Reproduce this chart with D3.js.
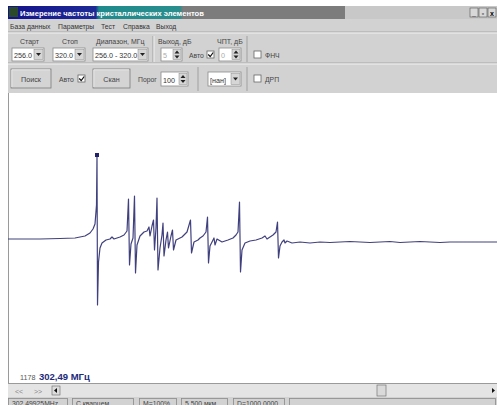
<!DOCTYPE html>
<html>
<head>
<meta charset="utf-8">
<script src="https://cdn.jsdelivr.net/npm/d3@7"></script>
<style>
  html, body { margin: 0; padding: 0; background: #fff; }
  svg { display: block; }
  text { font-family: "Liberation Sans", "DejaVu Sans", sans-serif; }
</style>
</head>
<body>
<svg id="chart" width="497" height="405"></svg>
<script>
// Sweep trace: sample number and response amplitude (arbitrary units, 0 = baseline)
const sampleNo = [
  1000, 1064, 1104, 1134, 1154, 1164, 1170, 1174, 1177, 1178, 1179, 1181, 1184, 1188, 1196, 1204,
  1208, 1212, 1224, 1232, 1238, 1241, 1243, 1246, 1250, 1253, 1255, 1258, 1264, 1272, 1278, 1282,
  1284, 1288, 1291, 1293, 1296, 1298, 1300, 1304, 1308, 1310, 1312, 1316, 1319, 1321, 1326, 1329,
  1331, 1336, 1348, 1358, 1365, 1367, 1372, 1380, 1384, 1390, 1396, 1399, 1401, 1404, 1408, 1412,
  1414, 1418, 1428, 1440, 1450, 1456, 1460, 1463, 1465, 1468, 1474, 1484, 1496, 1508, 1514, 1518,
  1524, 1530, 1536, 1539, 1541, 1544, 1548, 1552, 1554, 1558, 1568, 1584, 1604, 1624, 1644, 1664,
  1684, 1704, 1724, 1744, 1764, 1784, 1804, 1824, 1844, 1864, 1884, 1904, 1924, 1944, 1978
];
const amplitude = [
  1, 1, 1.5, 2, 4, 7, 11, 16, 35, 85, -65, -22, -8, -3, 0, 1,
  3, 1, 3, 5, 9, 41, -25, -4, 2, 44, -33, -5, 4, 8, 9, 13,
  4, 14, 20, -10, 12, 42, -30, -8, 5, 17, -16, 0, 8, -8, 4, 10,
  -10, 0, 3, 8, 20, -13, -2, 0, 2, 4, 8, 23, -23, -6, -2, 2,
  -5, 1, -2, 0, 2, 5, 8, 38, -32, -10, -3, -1, 0, 2, 4, 1,
  3, 5, 8, 18, -18, -6, -2, 0, -3, -1, -3, -2, -3, -2, -2.5, -2,
  -1.5, -2, -2.5, -2, -1.5, -2.5, -2, -1.5, -2, -2.5, -2, -2, -2, -2, -2
];
const markerSample = 1178;
const markerAmp = 85;
const markerFreq = "302,49 МГц";

// Window chrome texts
const menuItems = ["База данных", "Параметры", "Тест", "Справка", "Выход"];
const toolLabels = ["Старт", "Стоп", "Диапазон, МГц", "Выход, дБ", "ЧПТ, дБ"];
const comboValues = ["256.0", "320.0", "256.0 - 320.0"];
const statusItems = ["302,49925MHz", "С кварцем...", "M=100%", "5,500 мкм", "D=1000,0000"];

const svg = d3.select("#chart");
const W = 497, H = 405;
const face = "#d2d2d2";

// ---------- window frame ----------
svg.append("rect").attr("x", 0).attr("y", 0).attr("width", W).attr("height", H).attr("fill", "#ffffff");

// title bar
const defs = svg.append("defs");
const grad = defs.append("linearGradient").attr("id", "tb").attr("x1", "0").attr("x2", "1");
grad.append("stop").attr("offset", "0").attr("stop-color", "#14148a");
grad.append("stop").attr("offset", "0.26").attr("stop-color", "#1e2a96");
grad.append("stop").attr("offset", "0.27").attr("stop-color", "#1f8a8c");
grad.append("stop").attr("offset", "0.51").attr("stop-color", "#2a8e8e");
grad.append("stop").attr("offset", "0.52").attr("stop-color", "#7c7c7c");
grad.append("stop").attr("offset", "1").attr("stop-color", "#7c7c7c");
svg.append("rect").attr("x", 8).attr("y", 6).attr("width", W - 8).attr("height", 13).attr("fill", "#c8c8c8");
svg.append("rect").attr("x", 8).attr("y", 6).attr("width", 337).attr("height", 13).attr("fill", "url(#tb)");
svg.append("rect").attr("x", 9).attr("y", 7).attr("width", 9).attr("height", 10).attr("fill", "#2a4a2a");
svg.append("text").attr("x", 20).attr("y", 16).attr("font-size", 7.6).attr("font-weight", "bold")
  .attr("fill", "#ffffff").text("Измерение частоты кристаллических элементов");
// caption buttons
[470, 479, 488].forEach((bx, i) => {
  svg.append("rect").attr("x", bx).attr("y", 8).attr("width", 8).attr("height", 9)
    .attr("fill", "#d8d8d8").attr("stroke", "#555").attr("stroke-width", 0.6);
  svg.append("text").attr("x", bx + 4).attr("y", 15.5).attr("text-anchor", "middle")
    .attr("font-size", 7).attr("font-weight", "bold").attr("fill", "#000").text(["_", "▫", "x"][i]);
});

// menu bar + toolbars
svg.append("rect").attr("x", 8).attr("y", 19).attr("width", W - 8).attr("height", 74).attr("fill", face);
const menuX = [10, 58, 101, 123, 156];
menuItems.forEach((m, i) => {
  svg.append("text").attr("x", menuX[i]).attr("y", 28.5).attr("font-size", 6.8).attr("fill", "#333").text(m);
});
[[32, "#a8a8a8"], [33, "#f2f2f2"], [63, "#a8a8a8"], [64, "#f2f2f2"]].forEach(([yy, c]) => {
  svg.append("line").attr("x1", 8).attr("x2", W).attr("y1", yy).attr("y2", yy).attr("stroke", c).attr("stroke-width", 1);
});

// labels above combos
const labelX = [20, 62, 96, 158, 217];
toolLabels.forEach((t, i) => {
  svg.append("text").attr("x", labelX[i]).attr("y", 44).attr("font-size", 7).attr("fill", "#444").text(t);
});

function sunken(x, y, w, h) {
  svg.append("rect").attr("x", x).attr("y", y).attr("width", w).attr("height", h)
    .attr("fill", "#ffffff").attr("stroke", "#8a8a8a").attr("stroke-width", 0.8);
}
function combo(x, y, w, h, txt) {
  sunken(x, y, w, h);
  svg.append("text").attr("x", x + 2).attr("y", y + h - 3.5).attr("font-size", 7.2).attr("fill", "#333").text(txt);
  svg.append("rect").attr("x", x + w - 10).attr("y", y + 1.5).attr("width", 9).attr("height", h - 3)
    .attr("fill", "#d6d6d6").attr("stroke", "#888").attr("stroke-width", 0.5);
  svg.append("path").attr("d", `M${x + w - 8},${y + h / 2 - 1.5} l5,0 l-2.5,3 z`).attr("fill", "#222");
}
function spin(x, y, w, h, txt, dim) {
  sunken(x, y, w, h);
  svg.append("text").attr("x", x + 2).attr("y", y + h - 3.5).attr("font-size", 7.2)
    .attr("fill", dim ? "#aaa" : "#333").text(txt);
  svg.append("rect").attr("x", x + w - 9).attr("y", y + 1.5).attr("width", 8).attr("height", h - 3)
    .attr("fill", "#d6d6d6").attr("stroke", "#888").attr("stroke-width", 0.5);
  svg.append("path").attr("d", `M${x + w - 7.5},${y + h / 2 - 1} l5,0 l-2.5,-3 z`).attr("fill", "#222");
  svg.append("path").attr("d", `M${x + w - 7.5},${y + h / 2 + 1} l5,0 l-2.5,3 z`).attr("fill", "#222");
}
function checkbox(x, y, checked) {
  svg.append("rect").attr("x", x).attr("y", y).attr("width", 7).attr("height", 7)
    .attr("fill", "#fff").attr("stroke", "#666").attr("stroke-width", 0.8);
  if (checked) {
    svg.append("path").attr("d", `M${x + 1.2},${y + 3.5} l2,2 l3,-4`).attr("fill", "none")
      .attr("stroke", "#111").attr("stroke-width", 1.2);
  }
}
function button(x, y, w, h, txt) {
  svg.append("rect").attr("x", x).attr("y", y).attr("width", w).attr("height", h)
    .attr("fill", "#d4d4d4").attr("stroke", "#7a7a7a").attr("stroke-width", 0.8);
  svg.append("path").attr("d", `M${x + 0.8},${y + h - 1} V${y + 0.8} H${x + w - 1}`)
    .attr("fill", "none").attr("stroke", "#f4f4f4").attr("stroke-width", 0.8);
  svg.append("text").attr("x", x + w / 2).attr("y", y + h / 2 + 3).attr("text-anchor", "middle")
    .attr("font-size", 7.2).attr("fill", "#444").text(txt);
}

combo(12, 48, 32, 13, comboValues[0]);
combo(53, 48, 32, 13, comboValues[1]);
combo(93, 48, 55, 13, comboValues[2]);
svg.append("line").attr("x1", 153).attr("x2", 153).attr("y1", 36).attr("y2", 62).attr("stroke", "#a0a0a0");
svg.append("line").attr("x1", 154).attr("x2", 154).attr("y1", 36).attr("y2", 62).attr("stroke", "#f0f0f0");
spin(161, 48, 21, 13, "5", true);
svg.append("text").attr("x", 189).attr("y", 57.5).attr("font-size", 6.8).attr("fill", "#444").text("Авто");
checkbox(207, 51, true);
spin(219, 48, 22, 13, "0", true);
svg.append("line").attr("x1", 247).attr("x2", 247).attr("y1", 36).attr("y2", 62).attr("stroke", "#a0a0a0");
checkbox(254, 51, false);
svg.append("text").attr("x", 265).attr("y", 57.5).attr("font-size", 6.8).attr("fill", "#444").text("ФНЧ");

// second toolbar
button(11, 69, 40, 19, "Поиск");
svg.append("text").attr("x", 59).attr("y", 81.5).attr("font-size", 6.8).attr("fill", "#444").text("Авто");
checkbox(78, 75, true);
button(93, 69, 37, 19, "Скан");
svg.append("text").attr("x", 138).attr("y", 81.5).attr("font-size", 6.8).attr("fill", "#444").text("Порог");
spin(161, 72, 27, 14, "100", false);
svg.append("line").attr("x1", 198).attr("x2", 198).attr("y1", 67).attr("y2", 91).attr("stroke", "#a0a0a0");
combo(208, 72, 33, 14, "[нан]");
svg.append("line").attr("x1", 247).attr("x2", 247).attr("y1", 67).attr("y2", 91).attr("stroke", "#a0a0a0");
checkbox(254, 75, false);
svg.append("text").attr("x", 265).attr("y", 81.5).attr("font-size", 6.8).attr("fill", "#444").text("ДРП");

// ---------- plot ----------
const plotTop = 93, plotBottom = 383;
svg.append("rect").attr("x", 8).attr("y", plotTop).attr("width", W - 8).attr("height", plotBottom - plotTop).attr("fill", "#ffffff");
svg.append("line").attr("x1", 8.5).attr("x2", 8.5).attr("y1", plotTop).attr("y2", plotBottom).attr("stroke", "#9a9a9a");

const x = d3.scaleLinear().domain([1000, 1978]).range([8, W]);
const y = d3.scaleLinear().domain([-150, 150]).range([390, 90]);

const pts = sampleNo.map((s, i) => [s, amplitude[i]]);
const line = d3.line().x(d => x(d[0])).y(d => y(d[1]));
svg.append("path").datum(pts).attr("d", line).attr("fill", "none")
  .attr("stroke", "#40407e").attr("stroke-width", 1.2).attr("stroke-linejoin", "round");

svg.append("rect").attr("x", x(markerSample) - 2).attr("y", y(markerAmp) - 2)
  .attr("width", 4).attr("height", 4).attr("fill", "#22226a");

svg.append("text").attr("x", 20).attr("y", 380).attr("font-size", 7.2).attr("fill", "#555").text(markerSample);
svg.append("text").attr("x", 39).attr("y", 380).attr("font-size", 9.5).attr("font-weight", "bold")
  .attr("fill", "#1e2a7a").text(markerFreq);

// ---------- scrollbar ----------
svg.append("rect").attr("x", 8).attr("y", 383).attr("width", W - 8).attr("height", 14).attr("fill", "#e4e4e4");
svg.append("line").attr("x1", 8).attr("x2", W).attr("y1", 383.5).attr("y2", 383.5).attr("stroke", "#9a9a9a");
svg.append("text").attr("x", 15).attr("y", 393.5).attr("font-size", 7).attr("fill", "#888").text("<<");
svg.append("text").attr("x", 34).attr("y", 393.5).attr("font-size", 7).attr("fill", "#888").text(">>");
svg.append("rect").attr("x", 52).attr("y", 386).attr("width", 8).attr("height", 9)
  .attr("fill", "#dcdcdc").attr("stroke", "#666").attr("stroke-width", 0.6);
svg.append("path").attr("d", "M54,390.5 l3,-2.5 v5 z").attr("fill", "#111");
svg.append("rect").attr("x", 377).attr("y", 385).attr("width", 9).attr("height", 11)
  .attr("fill", "#dadada").attr("stroke", "#777").attr("stroke-width", 0.7);
svg.append("path").attr("d", "M492,388 l3,2.5 l-3,2.5 z").attr("fill", "#111");

// ---------- status bar ----------
svg.append("rect").attr("x", 8).attr("y", 397).attr("width", W - 8).attr("height", 8).attr("fill", face);
const panelX = [8, 72, 139, 181, 233, 289];
const panelW = [61, 63, 39, 48, 53, 208];
panelX.forEach((px, i) => {
  svg.append("rect").attr("x", px + 0.5).attr("y", 398.5).attr("width", panelW[i] - 2).attr("height", 8)
    .attr("fill", "none").attr("stroke", "#8a8a8a").attr("stroke-width", 0.8);
  if (statusItems[i]) {
    svg.append("text").attr("x", px + 4).attr("y", 405.5).attr("font-size", 6.8).attr("fill", "#444").text(statusItems[i]);
  }
});
</script>
</body>
</html>
